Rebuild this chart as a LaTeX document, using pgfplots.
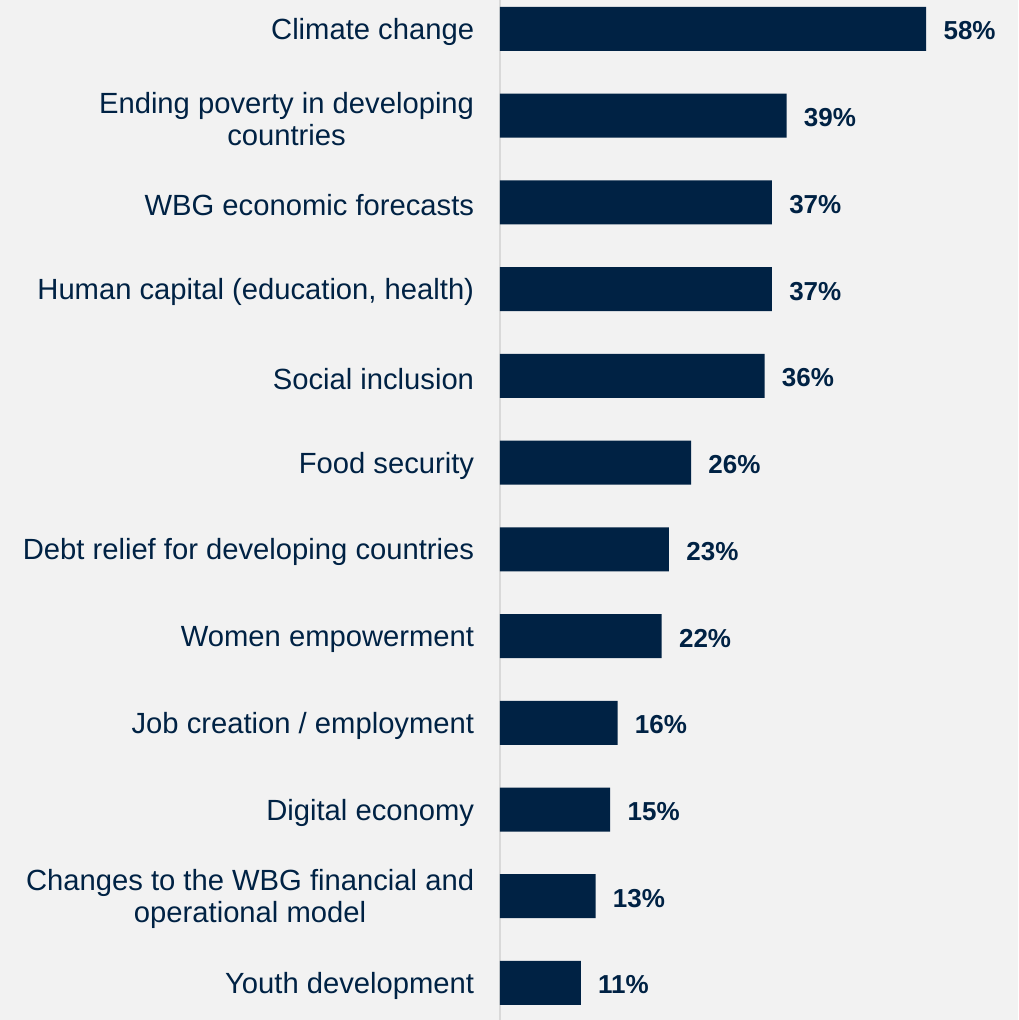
\documentclass[border=0pt]{standalone}
\usepackage{fontspec}
\setmainfont{Liberation Sans}
\usepackage{pgfplots}
\pgfplotsset{compat=1.18}
\definecolor{navy}{RGB}{0,34,68}
\definecolor{bg}{RGB}{242,242,242}
\definecolor{axisgray}{RGB}{217,217,217}
\begin{document}
\begin{tikzpicture}
  % background, 1px = 0.5pt; axis box starts at px 500
  \fill[bg] (-250pt,0) rectangle (259pt,510pt);
  \useasboundingbox (-250pt,0) rectangle (259pt,510pt);
  \begin{axis}[
    at={(0,0)}, anchor=south west,
    scale only axis,
    width=259pt, height=510pt,
    xbar, bar width=22pt,
    xmin=0, xmax=70.5,
    ymin=-0.334, ymax=11.427,
    y dir=reverse,
    axis x line=none,
    axis y line*=left,
    y axis line style={draw=axisgray, line width=1pt, -},
    ytick={0,...,11},
    yticklabels={
      Climate change,
      Ending poverty in developing\\countries,
      WBG economic forecasts,
      {Human capital (education, health)},
      Social inclusion,
      Food security,
      Debt relief for developing countries,
      Women empowerment,
      Job creation / employment,
      Digital economy,
      Changes to the WBG financial and\\operational model,
      Youth development},
    ytick style={draw=none},
    yticklabel style={font=\fontsize{14.6}{16}\selectfont, text=navy,
      align=center, inner sep=0pt, xshift=-8.5pt, yshift=-1.5pt},
    clip=false,
    /pgf/number format/assume math mode=true,
    nodes near coords={\pgfmathprintnumber{\pgfplotspointmeta}\%},
    every node near coord/.append style={font=\fontsize{13}{15}\selectfont\bfseries,
      text=navy, anchor=west, inner sep=0pt, xshift=8.5pt, yshift=-1pt},
  ]
    \addplot[fill=navy, draw=none] coordinates {
      (58,0) (39,1) (37,2) (37,3) (36,4) (26,5)
      (23,6) (22,7) (16,8) (15,9) (13,10) (11,11)
    };
  \end{axis}
\end{tikzpicture}
\end{document}
